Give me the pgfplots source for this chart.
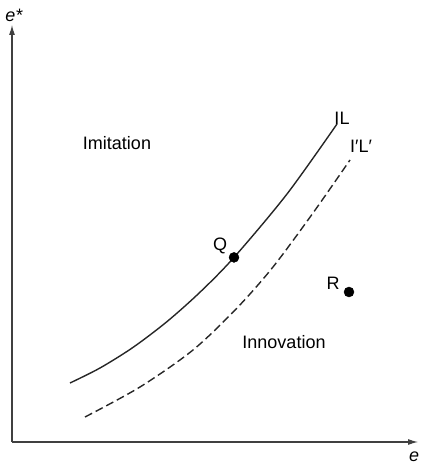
\documentclass[border=0pt]{standalone}
\usepackage{fontspec}
\setmainfont{Liberation Sans}
\usepackage{pgfplots}
\pgfplotsset{compat=1.18}
\usetikzlibrary{arrows.meta}
\begin{document}
\begin{tikzpicture}[x=1pt,y=1pt]
\begin{axis}[
  at={(12pt,23pt)}, anchor=south west,
  scale only axis, width=406pt, height=417pt,
  xmin=12, xmax=418, ymin=23, ymax=440,
  axis lines=left, ticks=none, clip=false,
  axis line style={line width=1.1pt, black!75},
  x axis line style={-{Latex[length=10pt,width=6pt]}},
  y axis line style={-{Latex[length=10pt,width=6pt]}},
]
\addplot[smooth, line width=1.4pt, black!85] coordinates {
  (70,82) (100,97) (133,117.6) (167,143.4) (200,172.8) (234,207.6) (287,271) (337,341)};
\addplot[smooth, line width=1.4pt, black!85, dash pattern=on 8pt off 4pt] coordinates {
  (85,48) (140,78) (193,115) (237,157) (273,198) (313,252) (350,305)};
\addplot[only marks, mark=*, mark size=5pt, black] coordinates {(234,207.6) (349,173)};
\node[font=\fontsize{18}{21}\selectfont] at (axis cs:117,322) {Imitation};
\node[font=\fontsize{18}{21}\selectfont] at (axis cs:284,123) {Innovation};
\node[font=\fontsize{18}{21}\selectfont] at (axis cs:220,219) {Q};
\node[font=\fontsize{18}{21}\selectfont] at (axis cs:333,182) {R};
\node[font=\fontsize{18}{21}\selectfont] at (axis cs:342,347) {IL};
\node[font=\fontsize{18}{21}\selectfont] at (axis cs:361,319) {I′L′};
\node[font=\fontsize{18}{21}\selectfont\itshape, inner sep=0pt] at (axis cs:14,450) {e*};
\node[font=\fontsize{18}{21}\selectfont\itshape, inner sep=0pt] at (axis cs:414,8) {e};
\end{axis}
\pgfresetboundingbox
\path[use as bounding box] (0,0) rectangle (420,465);
\end{tikzpicture}
\end{document}
